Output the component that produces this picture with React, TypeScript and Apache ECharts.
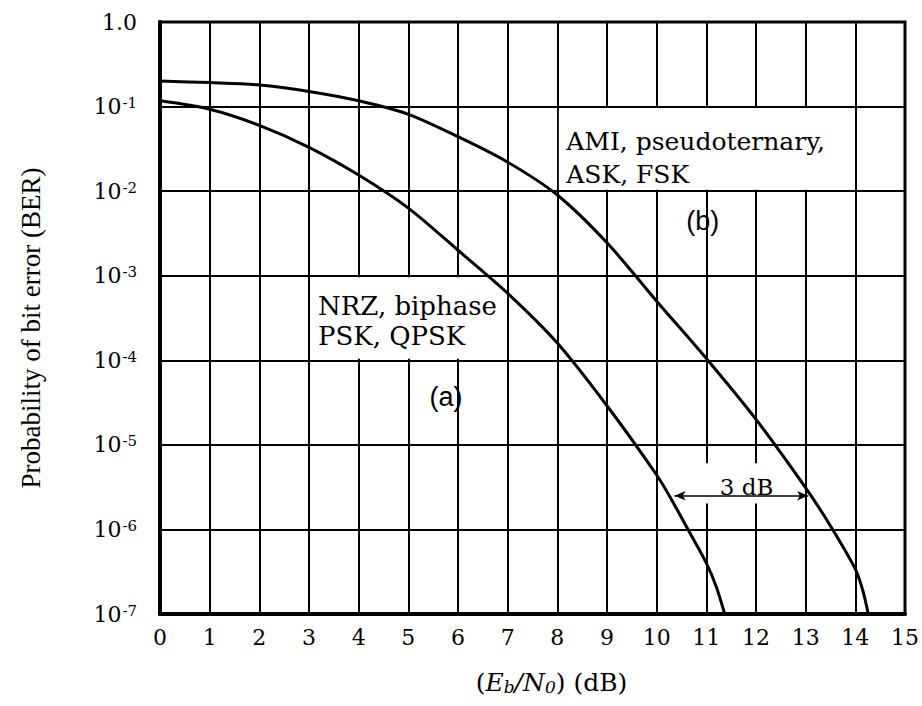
import React, { useEffect, useRef } from "react";
import * as echarts from "echarts";

// Eb/N0 (dB) tick values
const xTickMin = 0;
const xTickMax = 15;
// Decade tick labels on the BER axis
const berMin = 1e-7;
const berMax = 1;

// Curve (a): NRZ, biphase, PSK, QPSK
const curveAX = [0, 1, 2, 3, 4, 5, 6, 7, 8, 9, 10, 10.3, 10.65, 11, 11.2, 11.37];
const curveABer = [
  1.17e-1, 9.3e-2, 6.0e-2, 3.3e-2, 1.55e-2, 6.3e-3, 2.0e-3, 6.2e-4, 1.6e-4,
  2.9e-5, 4.4e-6, 2.25e-6, 9.5e-7, 4.0e-7, 2.1e-7, 1.0e-7,
];

// Curve (b): AMI, pseudoternary, ASK, FSK
const curveBX = [0, 1, 2, 3, 4, 5, 6, 7, 8, 9, 10, 11, 12, 13, 13.5, 14, 14.15, 14.26];
const curveBBer = [
  2.0e-1, 1.92e-1, 1.8e-1, 1.51e-1, 1.17e-1, 8.1e-2, 4.4e-2, 2.2e-2, 9.0e-3,
  2.45e-3, 5.0e-4, 1.05e-4, 2.0e-5, 3.1e-6, 1.1e-6, 3.4e-7, 1.9e-7, 1.0e-7,
];

// 3 dB arrow (data units)
const arrowX = [10.36, 13.05];
const arrowBer = 2.5e-6;

// Annotation anchors (data units)
const labelA = { text: "NRZ, biphase\nPSK, QPSK", x: 3.18, ber: 2.9e-4 };
const labelB = { text: "AMI, pseudoternary,\nASK, FSK", x: 8.18, ber: 2.44e-2 };
const tagA = { text: "(a)", x: 5.76, ber: 3.7e-5 };
const tagB = { text: "(b)", x: 10.93, ber: 4.4e-3 };
const tag3dB = { text: "3 dB", x: 11.81, ber: 3.2e-6 };

// White boxes behind the labels (data units)
const boxA = { x0: 3, x1: 7, b0: 1e-3, b1: 1e-4 };
const boxB = { x0: 8, x1: 13.75, b0: 1e-1, b1: 1e-2 };
const box3 = { x0: 10.3, x1: 12.85, b0: 6.3e-6, b1: 1.95e-6 };

const SERIF = "DejaVu Serif";
const TIMES = "Liberation Serif";

export default function App() {
  const ref = useRef<HTMLDivElement>(null);

  useEffect(() => {
    document.body.style.margin = "0";
    if (!ref.current) return;
    const chart = echarts.init(ref.current, undefined, { renderer: "svg" });

    const option: any = {
      animation: false,
      backgroundColor: "#fff",
      grid: {
        left: 160,
        right: 15,
        top: 22,
        bottom: 92,
        show: true,
        borderColor: "#000",
        borderWidth: 3,
      },
      xAxis: {
        type: "value",
        min: xTickMin,
        max: xTickMax,
        interval: 1,
        axisLine: { show: true, lineStyle: { color: "#000", width: 4 } },
        axisTick: { show: false },
        axisLabel: {
          color: "#000",
          fontFamily: SERIF,
          fontSize: 22,
          margin: 12,
        },
        splitLine: { show: true, lineStyle: { color: "#000", width: 2 } },
        name: "({it|E}{sub|b}{it|/N}{sub|0}) (dB)",
        nameLocation: "middle",
        nameGap: 56,
        nameTextStyle: {
          color: "#000",
          fontFamily: SERIF,
          fontSize: 25,
          padding: [0, 0, 0, 38],
          rich: {
            it: { fontFamily: SERIF, fontSize: 25, fontStyle: "italic", color: "#000" },
            sub: {
              fontFamily: SERIF,
              fontSize: 17,
              fontStyle: "italic",
              color: "#000",
              verticalAlign: "bottom",
              lineHeight: 14,
              padding: [13, 0, 0, 0],
            },
          },
        },
      },
      yAxis: {
        type: "log",
        logBase: 10,
        min: berMin,
        max: berMax,
        axisLine: { show: true, lineStyle: { color: "#000", width: 4 } },
        axisTick: { show: false },
        axisLabel: {
          color: "#000",
          margin: 23,
          formatter: (v: number) => {
            const e = Math.round(Math.log10(v));
            if (e === 0) return "{base|1.0}";
            return "{base|10}{sup|" + e + "}";
          },
          rich: {
            base: { fontFamily: SERIF, fontSize: 22, color: "#000", verticalAlign: "middle", lineHeight: 22 },
            sup: {
              fontFamily: SERIF,
              fontSize: 15,
              color: "#000",
              verticalAlign: "top",
              lineHeight: 14,
              padding: [0, 0, 14, 1],
            },
          },
        },
        splitLine: { show: true, lineStyle: { color: "#000", width: 2 } },
        name: "Probability of bit error (BER)",
        nameLocation: "middle",
        nameGap: 116,
        nameTextStyle: {
          color: "#000",
          fontFamily: TIMES,
          fontSize: 27,
          padding: [0, 20, 0, 0],
        },
      },
      series: [
        {
          name: "NRZ, biphase, PSK, QPSK",
          type: "line",
          data: curveAX.map((x, i) => [x, curveABer[i]]),
          showSymbol: false,
          smooth: 0.3,
          z: 3,
          lineStyle: { color: "#000", width: 3 },
          markLine: {
            silent: true,
            symbol: ["arrow", "arrow"],
            symbolSize: [7, 11],
            label: { show: false },
            lineStyle: { color: "#000", width: 1.5, type: "solid" },
            data: [[{ coord: [arrowX[0], arrowBer] }, { coord: [arrowX[1], arrowBer] }]],
          },
        },
        {
          name: "AMI, pseudoternary, ASK, FSK",
          type: "line",
          data: curveBX.map((x, i) => [x, curveBBer[i]]),
          showSymbol: false,
          smooth: 0.3,
          z: 3,
          lineStyle: { color: "#000", width: 3 },
        },
      ],
    };
    chart.setOption(option);

    const px = (x: number, b: number) =>
      chart.convertToPixel({ xAxisIndex: 0, yAxisIndex: 0 }, [x, b]) as number[];
    const rect = (bx: { x0: number; x1: number; b0: number; b1: number }) => {
      const p0 = px(bx.x0, bx.b0);
      const p1 = px(bx.x1, bx.b1);
      return {
        type: "rect",
        z: 1,
        silent: true,
        shape: {
          x: p0[0] + 1.5,
          y: p0[1] + 1.5,
          width: p1[0] - p0[0] - 3,
          height: p1[1] - p0[1] - 3,
        },
        style: { fill: "#fff" },
      };
    };
    const txt = (
      t: { text: string; x: number; ber: number },
      align: string,
      family: string,
      size: number,
      lineHeight: number
    ) => {
      const p = px(t.x, t.ber);
      return {
        type: "text",
        z: 10,
        silent: true,
        x: p[0],
        y: p[1],
        style: {
          text: t.text,
          fill: "#000",
          fontFamily: family,
          fontSize: size,
          lineHeight,
          align,
          verticalAlign: "middle",
        },
      };
    };

    chart.setOption({
      graphic: [
        rect(boxA),
        rect(boxB),
        rect(box3),
        txt(labelA, "left", SERIF, 26, 30),
        txt(labelB, "left", SERIF, 25, 33),
        txt(tagA, "center", "Liberation Sans", 27, 30),
        txt(tagB, "center", "Liberation Sans", 27, 30),
        txt(tag3dB, "center", SERIF, 23, 26),
      ],
    });

    return () => chart.dispose();
  }, []);

  return <div ref={ref} style={{ width: 922, height: 706 }} />;
}
